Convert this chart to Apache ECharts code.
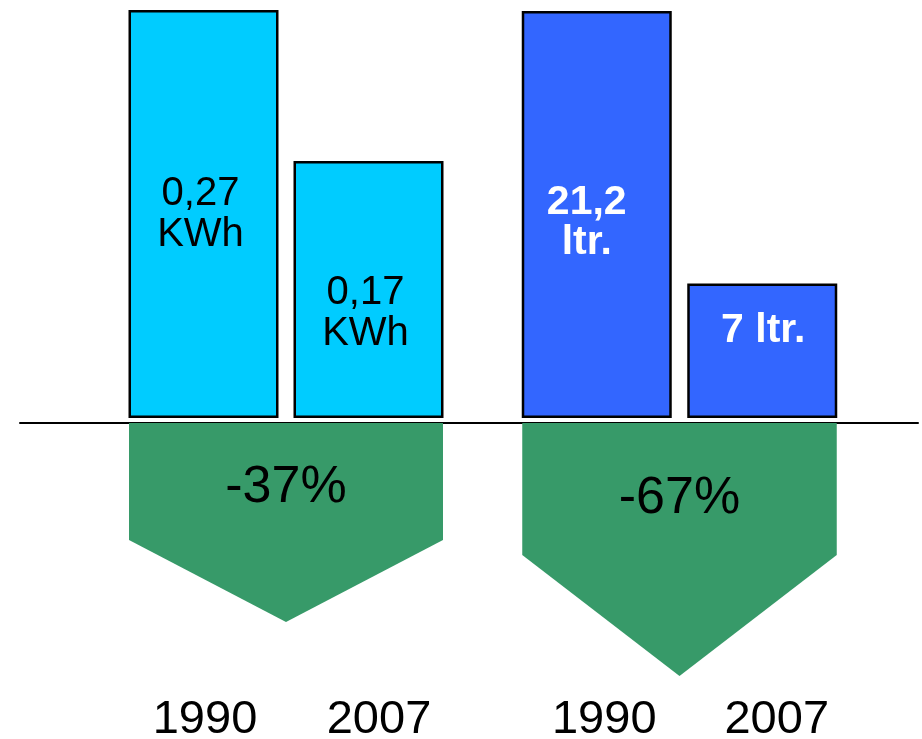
<!DOCTYPE html>
<html>
<head>
<meta charset="utf-8">
<script src="https://cdn.jsdelivr.net/npm/echarts@6/dist/echarts.min.js"></script>
<style>
  html, body { margin: 0; padding: 0; background: #ffffff; }
  #chart { width: 922px; height: 739px; }
</style>
</head>
<body>
<div id="chart"></div>
<script>
// ---- data ----
var years = ['1990', '2007'];
var energyValues = [0.27, 0.17];          // KWh
var energyLabels = ['0,27\nKWh', '0,17\nKWh'];
var waterValues = [21.2, 7];              // ltr.
var waterLabels = ['21,2\nltr.', '7 ltr.'];
var changeLabels = ['-37%', '-67%'];

// ---- styling ----
var FONT = "'Liberation Sans', Arial, Helvetica, sans-serif";
var BAR_W = 150;
var CYAN = '#00ccff';
var BLUE = '#3366ff';
var GREEN = '#379a69';

function arrowRenderer(label, sideDepth, tipDepth, textDy) {
  return function (params, api) {
    var p0 = api.coord([0, 0]);
    var p1 = api.coord([1, 0]);
    var x0 = p0[0] - BAR_W / 2 + 0.5;
    var x1 = p1[0] + BAR_W / 2 - 0.5;
    var xm = (x0 + x1) / 2;
    var yTop = p0[1] + 5;
    return {
      type: 'group',
      children: [
        {
          type: 'polygon',
          shape: { points: [[x0, yTop], [x1, yTop], [x1, yTop + sideDepth], [xm, yTop + tipDepth], [x0, yTop + sideDepth]] },
          style: { fill: GREEN }
        },
        {
          type: 'text',
          style: {
            text: label, x: xm, y: yTop + textDy,
            align: 'center', verticalAlign: 'middle',
            fontSize: 52, fontFamily: FONT, fill: '#000000'
          }
        }
      ]
    };
  };
}

function barItems(values, labels, offsets, labelStyle) {
  return values.map(function (v, i) {
    return {
      value: v,
      label: Object.assign({ show: true, position: 'inside', formatter: labels[i], offset: offsets[i] }, labelStyle)
    };
  });
}

// per-category shift of the year labels (left padding; text shifts by half)
function catAxis(gridIndex, pads) {
  return {
    type: 'category', gridIndex: gridIndex,
    data: years.map(function (y, i) {
      return { value: y, textStyle: { padding: [0, 0, 0, pads[i]] } };
    }),
    axisLine: { show: false }, axisTick: { show: false },
    axisLabel: { margin: 279, fontSize: 47, fontFamily: FONT, color: '#000000' }
  };
}

var chart = echarts.init(document.getElementById('chart'), null, { renderer: 'canvas' });
chart.setOption({
  backgroundColor: '#ffffff',
  animation: false,
  grid: [
    { left: 121, width: 330, top: 10, bottom: 321, outerBoundsMode: 'none', containLabel: false },
    { left: 514, width: 331, top: 11, bottom: 321, outerBoundsMode: 'none', containLabel: false },
    { left: 20, right: 4, top: 400, bottom: 316, outerBoundsMode: 'none', containLabel: false }
  ],
  xAxis: [
    catAxis(0, [3, 21]),
    catAxis(1, [15, 29]),
    { type: 'value', gridIndex: 2, min: 0, max: 1,
      axisLine: { show: true, lineStyle: { color: '#000000', width: 2 } },
      axisTick: { show: false }, axisLabel: { show: false }, splitLine: { show: false } }
  ],
  yAxis: [
    { type: 'value', gridIndex: 0, min: 0, max: 0.27, show: false },
    { type: 'value', gridIndex: 1, min: 0, max: 21.2, show: false },
    { type: 'value', gridIndex: 2, min: 0, max: 1, show: false }
  ],
  series: [
    {
      type: 'bar', xAxisIndex: 0, yAxisIndex: 0, barWidth: BAR_W,
      itemStyle: { color: CYAN, borderColor: '#000000', borderWidth: 2.5 },
      data: barItems(energyValues, energyLabels, [[-3, 0], [-3, 24]],
        { fontSize: 40, lineHeight: 41, fontFamily: FONT, color: '#000000' })
    },
    {
      type: 'bar', xAxisIndex: 1, yAxisIndex: 1, barWidth: BAR_W,
      itemStyle: { color: BLUE, borderColor: '#000000', borderWidth: 2.5 },
      data: barItems(waterValues, waterLabels, [[-10, 8], [1, -20]],
        { fontSize: 41, lineHeight: 40, fontWeight: 'bold', fontFamily: FONT, color: '#ffffff' })
    },
    {
      type: 'custom', xAxisIndex: 0, yAxisIndex: 0, z: 3,
      renderItem: arrowRenderer(changeLabels[0], 117, 199, 65),
      data: [[0, 0]]
    },
    {
      type: 'custom', xAxisIndex: 1, yAxisIndex: 1, z: 3,
      renderItem: arrowRenderer(changeLabels[1], 132, 253, 76),
      data: [[0, 0]]
    }
  ]
});
</script>
</body>
</html>
